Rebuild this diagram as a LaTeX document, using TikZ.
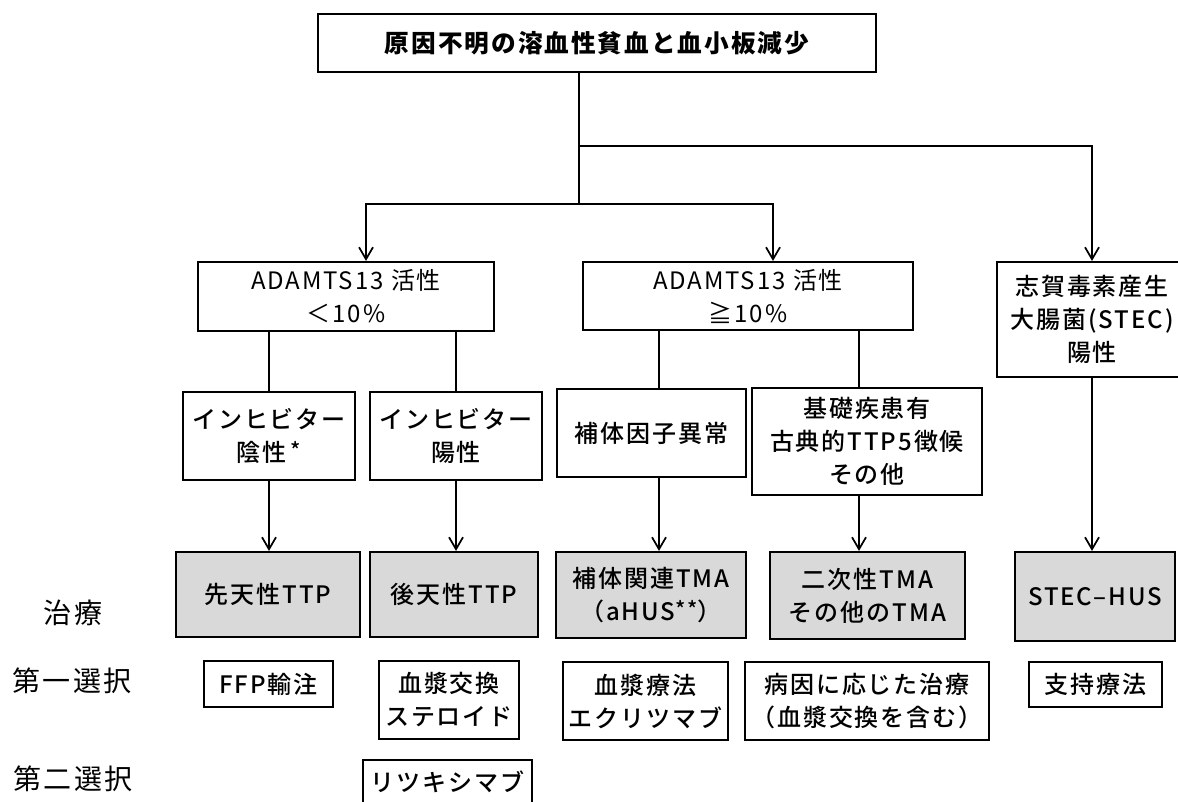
\documentclass[tikz,border=0pt]{standalone}
\usepackage{fontspec}
\setmainfont{Noto Sans CJK JP}[LetterSpace=8]
\newfontfamily\jpmed{Noto Sans CJK JP Medium}[LetterSpace=8]
\usetikzlibrary{arrows.meta}
\definecolor{gfill}{RGB}{217,217,217}
\newcommand{\bx}[7]{\node[#1, minimum width={(#4-#2)*0.75pt}, minimum height={(#5-#3)*0.75pt}] (#6) at ({(#2+#4)/2},{(#3+#5)/2}) {#7};}
\newcommand{\myast}[1]{{\fontsize{16}{16}\selectfont\raisebox{0.12em}{#1}}}
\tikzset{
  box/.style={draw, line width=1.6pt, inner sep=0pt, align=center, font=\jpmed\fontsize{18}{24.75}\selectfont},
  lbox/.style={box, font=\fontsize{18}{24.75}\selectfont},
  tbox/.style={box, font=\bfseries\fontsize{18.5}{24}\selectfont},
  gbox/.style={box, fill=gfill},
  rowlab/.style={inner sep=0pt, font=\fontsize{21}{26}\selectfont},
  conn/.style={line width=1.3pt},
  arr/.style={conn, -{Straight Barb[length=9pt,width=10.5pt]}}
}
\begin{document}
\begin{tikzpicture}[x=0.75pt,y=-0.75pt]
\useasboundingbox (0,0) rectangle (1178,802);
\fill[white] (0,0) rectangle (1178,802);
% boxes
\bx{tbox}{318}{14}{876}{72}{top}{原因不明の溶血性貧血と血小板減少}
\bx{lbox}{198}{262}{494}{331}{a1}{ADAMTS13 活性\\＜10\%}
\bx{lbox}{583}{262}{913}{330}{a2}{ADAMTS13 活性\\≧10\%}
\bx{box}{997}{262}{1187}{377}{stec}{志賀毒素産生\\大腸菌(STEC)\\陽性}
\bx{box}{183}{392}{355}{480}{i1}{インヒビター\\陰性\,\myast{*}}
\bx{box}{370}{392}{542}{480}{i2}{インヒビター\\陽性}
\bx{box}{557}{389}{746}{477}{c1}{補体因子異常}
\bx{box}{752}{388}{982}{495}{c2}{基礎疾患有\\古典的TTP5徴候\\その他}
\bx{gbox}{176}{552}{360}{637}{t1}{先天性TTP}
\bx{gbox}{370}{552}{538}{637}{t2}{後天性TTP}
\bx{gbox}{556}{552}{746}{638}{t3}{補体関連TMA\\（aHUS\myast{**}）}
\bx{gbox}{770}{552}{965}{639}{t4}{二次性TMA\\その他のTMA}
\bx{gbox}{1015}{552}{1175}{641}{t5}{STEC–HUS}
\bx{box}{204}{661}{333}{707}{f1}{FFP輸注}
\bx{box}{379}{661}{519}{739}{f2}{血漿交換\\ステロイド}
\bx{box}{563}{662}{728}{740}{f3}{血漿療法\\エクリツマブ}
\bx{box}{745}{662}{989}{740}{f4}{病因に応じた治療\\（血漿交換を含む）}
\bx{box}{1029}{662}{1162}{707}{f5}{支持療法}
\bx{box}{363}{760}{532}{804}{s1}{リツキシマブ}
% row labels
\node[rowlab] (l1) at (73,613) {治療};
\node[rowlab] (l2) at (72,681) {第一選択};
\node[rowlab] (l3) at (73,779) {第二選択};
% junctions
\coordinate (jm) at (579,204);
\coordinate (jr) at (579,146);
\coordinate (xl) at (366,204);
\coordinate (xr) at (773,204);
\coordinate (xa) at (659,0);
\coordinate (xb) at (859,0);
% connectors
\draw[conn] (top.south -| jm) -- (jm);
\draw[arr] (jr) -| (stec.north);
\draw[arr] (jm) -| (a1.north -| xl);
\draw[arr] (jm) -| (a2.north -| xr);
\draw[conn] (a1.south -| i1.north) -- (i1.north);
\draw[conn] (a1.south -| i2.north) -- (i2.north);
\draw[conn] (a2.south -| xa) -- (c1.north -| xa);
\draw[conn] (a2.south -| xb) -- (c2.north -| xb);
\draw[arr] (i1.south) -- (i1.south |- t1.north);
\draw[arr] (i2.south) -- (i2.south |- t2.north);
\draw[arr] (c1.south -| xa) -- (t3.north -| xa);
\draw[arr] (c2.south -| xb) -- (t4.north -| xb);
\draw[arr] (stec.south) -- (stec.south |- t5.north);
\end{tikzpicture}
\end{document}
